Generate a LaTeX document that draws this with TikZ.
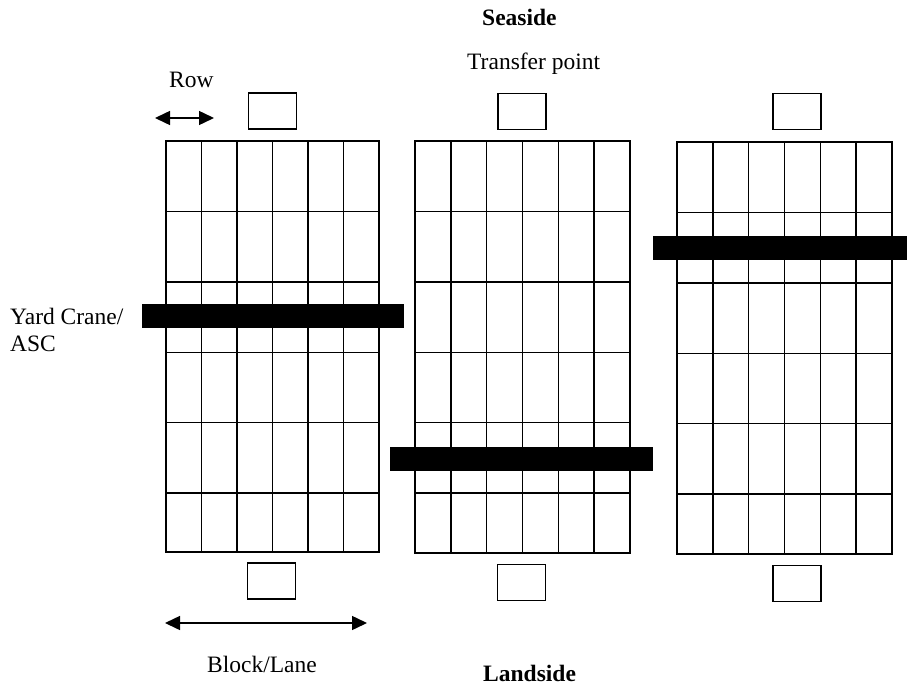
\documentclass[tikz,border=0pt]{standalone}
\usepackage{fontspec}
\setmainfont{Liberation Serif}
\usetikzlibrary{arrows.meta}
\begin{document}
\begin{tikzpicture}[x=1pt,y=-1pt,
  lbl/.style={inner sep=0pt, anchor=base west, font=\fontsize{23.5}{28}\selectfont},
  boldlbl/.style={inner sep=0pt, anchor=base west, font=\fontsize{23.5}{28}\selectfont\bfseries},
  tpbox/.style={draw, line width=1.5pt, minimum width=48pt, minimum height=36pt, inner sep=0pt},
  crane/.style={fill=black, inner sep=0pt, minimum height=24pt},
  gridline/.style={line width=1.4pt},
  dimarrow/.style={line width=1.5pt, {Triangle[length=15pt,width=14pt]}-{Triangle[length=15pt,width=14pt]}}
]
\useasboundingbox (0,0) rectangle (907,685);

% yard blocks
\foreach \xa/\ya/\xb/\yb in {166/141/379/552, 415/141/630/553, 677/142/892/554}{
  \draw[gridline] (\xa,\ya) rectangle (\xb,\yb);
  \foreach \i in {1,...,5}{
    \draw[gridline] ({\xa+\i*(\xb-\xa)/6},\ya) -- ({\xa+\i*(\xb-\xa)/6},\yb);
    \draw[gridline] (\xa,{\ya+\i*70.4}) -- (\xb,{\ya+\i*70.4});
  }
}

% yard cranes
\node[crane, minimum width=262pt] (crane1) at (273,316) {};
\node[crane, minimum width=263pt] (crane2) at (521.5,459) {};
\node[crane, minimum width=254pt] (crane3) at (780,248) {};

% transfer points
\node[tpbox] (tpa1) at (272.5,111) {};
\node[tpbox] (tpa2) at (522,111.5) {};
\node[tpbox] (tpa3) at (797,111.5) {};
\node[tpbox] (tpb1) at (271.5,581) {};
\node[tpbox] (tpb2) at (521.5,582.5) {};
\node[tpbox] (tpb3) at (797,583.5) {};

% labels
\node[boldlbl] (seaside) at (482,26) {Seaside};
\node[lbl] (transfer) at (467,70) {Transfer point};
\node[lbl] (row) at (169,87) {Row};
\node[lbl] (yc1) at (10,324) {Yard Crane/};
\node[lbl] (yc2) at (10,351) {ASC};
\node[lbl] (block) at (207,672) {Block/Lane};
\node[boldlbl] (landside) at (483,681) {Landside};

% dimension arrows
\coordinate (rowa) at (155,118);
\coordinate (rowb) at (214,118);
\draw[dimarrow] (rowa) -- (rowb);
\coordinate (blka) at (165,623);
\coordinate (blkb) at (367,623);
\draw[dimarrow] (blka) -- (blkb);
\end{tikzpicture}
\end{document}
